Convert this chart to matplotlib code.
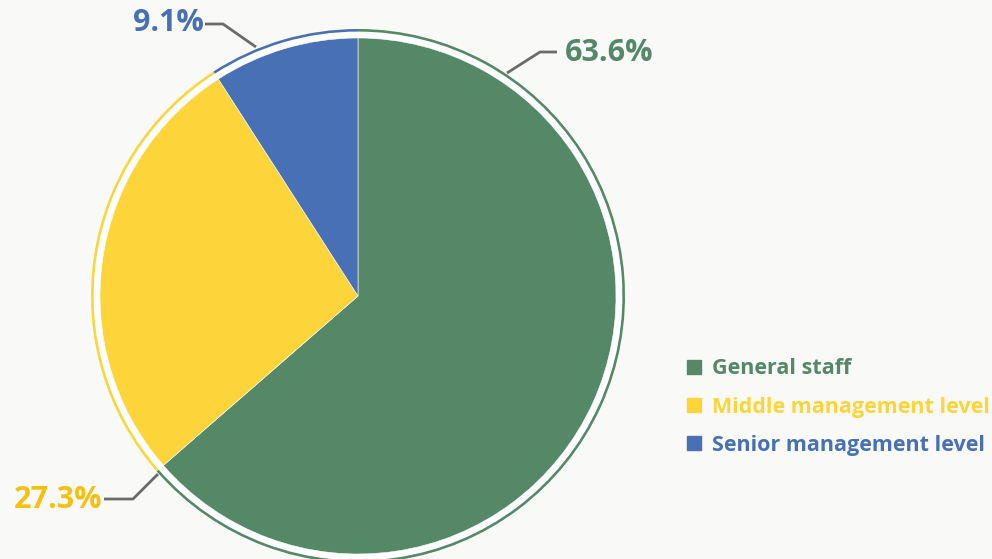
import matplotlib.pyplot as plt
from matplotlib.lines import Line2D
from matplotlib.patches import Circle

categories = ["General staff", "Middle management level", "Senior management level"]
shares = [63.6, 27.3, 9.1]
share_labels = ["63.6%", "27.3%", "9.1%"]
colors = ["#548867", "#FDD53B", "#4870B5"]
text_colors = ["#548867", "#F8C00E", "#4870B5"]
legend_colors = ["#548867", "#FDD53B", "#4870B5"]

W, H = 992, 559
fig = plt.figure(figsize=(W / 100, H / 100), dpi=100)
fig.patch.set_facecolor("#f9faf7")
ax = fig.add_axes([0, 0, 1, 1])
ax.set_xlim(0, W)
ax.set_ylim(0, H)
ax.set_aspect("equal")
ax.axis("off")

cx, cy = 358, H - 296
font = "Open Sans"

# white gap between pie and outer ring
ax.add_patch(Circle((cx, cy), 265, facecolor="white", edgecolor="none", zorder=1))
ax.pie(shares, colors=colors, center=(cx, cy), radius=258, startangle=90,
       counterclock=False, frame=True,
       wedgeprops=dict(edgecolor="white", linewidth=0.4, zorder=2))
ax.pie(shares, colors=colors, center=(cx, cy), radius=267, startangle=90,
       counterclock=False, frame=True,
       wedgeprops=dict(width=2.6, edgecolor="none", zorder=2))
ax.set_xlim(0, W)
ax.set_ylim(0, H)
ax.axis("off")

# leader lines and percentage labels (positions in pixels from top)
leaders = [
    [(507, 73), (540, 52), (557, 52)],
    [(158, 474), (133, 499), (104, 499)],
    [(256, 47), (223, 24), (205, 24)],
]
label_pos = [(565, 53, "left"), (102, 500, "right"), (204, 23, "right")]
for pts, (lx, ly, ha), lab, tc in zip(leaders, label_pos, share_labels, text_colors):
    ax.plot([p[0] for p in pts], [H - p[1] for p in pts], color="#6b6b6b",
            lw=2, solid_capstyle="butt", zorder=3)
    ax.text(lx, H - ly, lab, color=tc, fontsize=22, fontweight="bold",
            family=font, ha=ha, va="center", zorder=4)

# legend
handles = [Line2D([], [], marker="s", ls="none", markersize=10.5, color=c)
           for c in legend_colors]
leg = ax.legend(handles, categories, loc="upper left",
                bbox_to_anchor=(666 / W, 1 - 339 / H), frameon=False,
                handlelength=0.8, handletextpad=0.45, labelspacing=0.8,
                prop=dict(family=font, weight="bold", size=15.5))
for t, c in zip(leg.get_texts(), legend_colors):
    t.set_color(c)

fig.savefig("out.png", dpi=100, facecolor=fig.get_facecolor())
